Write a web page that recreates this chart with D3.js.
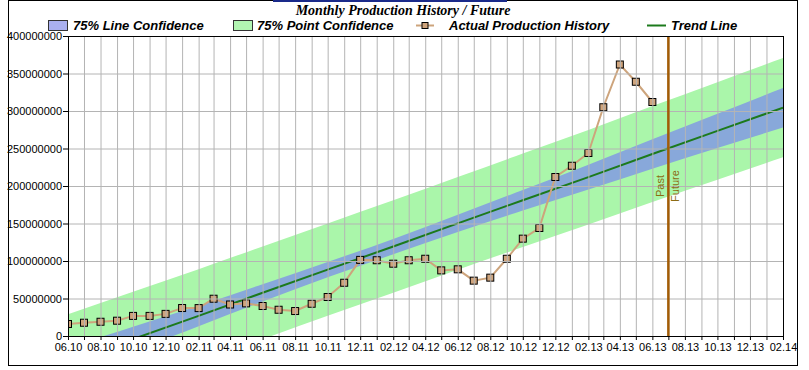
<!DOCTYPE html>
<html>
<head>
<meta charset="utf-8">
<script src="https://cdn.jsdelivr.net/npm/d3@7"></script>
<style>
  body { margin: 0; background: #fff; }
  svg { display: block; font-family: "Liberation Sans", Arial, sans-serif; }
</style>
</head>
<body>
<svg id="chart"></svg>
<script>
// monthly production, in millions
const months = ["06.10","07.10","08.10","09.10","10.10","11.10","12.10","01.11","02.11","03.11","04.11","05.11",
  "06.11","07.11","08.11","09.11","10.11","11.11","12.11","01.12","02.12","03.12","04.12","05.12",
  "06.12","07.12","08.12","09.12","10.12","11.12","12.12","01.13","02.13","03.13","04.13","05.13","06.13"];
const production = [16, 17.7, 19, 20.4, 26.8, 26.8, 29.5, 37.3, 37.2, 49.7, 42, 43.5,
  40, 35, 33.3, 43, 52, 71, 101.5, 101, 96.4, 101, 103, 87.5,
  88.9, 73.8, 77.8, 103, 129.8, 144, 212, 227, 244, 305, 362, 339, 312];

// trend and confidence bands, read every 4 months (millions)
const bandMonths = ["06.10","10.10","02.11","06.11","10.11","02.12","06.12","10.12","02.13","06.13","10.13","02.14"];
const trend     = [-34.9, -4.1, 26.8, 57.6, 88.5, 119.3, 150.2, 181.0, 211.8, 242.7, 273.5, 304.4];
const lineLow   = [-54.5, -20.6, 13.1, 46.1, 78.3, 109.1, 138.7, 167.3, 195.3, 223.1, 250.6, 278.1];
const lineHigh  = [-15.3, 12.4, 40.5, 69.1, 98.7, 129.5, 161.7, 194.7, 228.3, 262.3, 296.4, 330.7];
const pointLow  = [-98.8, -67.1, -35.5, -4.3, 26.9, 57.7, 88.3, 118.7, 148.8, 178.8, 208.5, 238.2];
const pointHigh = [29.0, 58.9, 89.1, 119.5, 150.1, 180.9, 212.1, 243.3, 274.8, 306.6, 338.5, 370.6];

const pastFuture = "07.13";
const xStart = "06.10", xEnd = "02.14";
const yTicks = [0, 50, 100, 150, 200, 250, 300, 350, 400];

const parseMonth = d3.timeParse("%m.%y");
const M = 1e6;

class ProductionChart {
  constructor(_config) {
    this.config = {
      parentElement: _config.parentElement,
      containerWidth: _config.containerWidth || 809,
      containerHeight: _config.containerHeight || 370,
      margin: _config.margin || { top: 36, right: 26, bottom: 34, left: 68 }
    };
    this.initVis();
  }

  initVis() {
    let vis = this;
    vis.svg = d3.select(vis.config.parentElement)
      .attr("width", vis.config.containerWidth)
      .attr("height", vis.config.containerHeight);

    vis.width = vis.config.containerWidth - vis.config.margin.left - vis.config.margin.right;
    vis.height = vis.config.containerHeight - vis.config.margin.top - vis.config.margin.bottom;

    // outer frame
    vis.svg.append("rect")
      .attr("x", 8.5).attr("y", 0.5)
      .attr("width", 789).attr("height", 365)
      .attr("fill", "none").attr("stroke", "#000");

    vis.chart = vis.svg.append("g")
      .attr("transform", `translate(${vis.config.margin.left},${vis.config.margin.top})`);

    vis.chart.append("clipPath").attr("id", "plotClip")
      .append("rect").attr("width", vis.width).attr("height", vis.height);

    vis.xScale = d3.scaleTime()
      .domain([parseMonth(xStart), parseMonth(xEnd)])
      .range([0, vis.width]);

    vis.yScale = d3.scaleLinear()
      .domain([0, 400 * M])
      .range([vis.height, 0]);

    vis.render();
  }

  render() {
    let vis = this;
    const x = vis.xScale, y = vis.yScale;

    const bands = bandMonths.map((m, i) => ({
      date: parseMonth(m), trend: trend[i] * M,
      lineLow: lineLow[i] * M, lineHigh: lineHigh[i] * M,
      pointLow: pointLow[i] * M, pointHigh: pointHigh[i] * M
    }));
    const history = months.map((m, i) => ({ date: parseMonth(m), value: production[i] * M }));

    const plot = vis.chart.append("g").attr("clip-path", "url(#plotClip)");

    plot.append("path").datum(bands)
      .attr("fill", "#aaf6aa")
      .attr("d", d3.area().curve(d3.curveMonotoneX)
        .x(d => x(d.date)).y0(d => y(d.pointLow)).y1(d => y(d.pointHigh)));

    plot.append("path").datum(bands)
      .attr("fill", "#88a8da")
      .attr("d", d3.area().curve(d3.curveMonotoneX)
        .x(d => x(d.date)).y0(d => y(d.lineLow)).y1(d => y(d.lineHigh)));

    // grid
    const allMonths = d3.timeMonth.range(parseMonth(xStart), d3.timeMonth.offset(parseMonth(xEnd), 1));
    vis.chart.append("g")
      .attr("transform", `translate(0,${vis.height})`)
      .call(d3.axisBottom(x).tickValues(allMonths).tickSize(-vis.height).tickFormat(""))
      .call(g => g.select(".domain").remove())
      .call(g => g.selectAll("line").attr("stroke", "#b4b4b4"));
    vis.chart.append("g")
      .call(d3.axisLeft(y).tickValues(yTicks.map(v => v * M)).tickSize(-vis.width).tickFormat(""))
      .call(g => g.select(".domain").remove())
      .call(g => g.selectAll("line").attr("stroke", "#b4b4b4"));

    // trend line
    plot.append("path").datum(bands)
      .attr("fill", "none").attr("stroke", "#1c7a1c").attr("stroke-width", 2)
      .attr("d", d3.line().x(d => x(d.date)).y(d => y(d.trend)));

    // actual production history
    plot.append("path").datum(history)
      .attr("fill", "none").attr("stroke", "#cda47c").attr("stroke-width", 2)
      .attr("d", d3.line().x(d => x(d.date)).y(d => y(d.value)));

    plot.selectAll(".pt").data(history).join("rect")
      .attr("class", "pt")
      .attr("x", d => x(d.date) - 3.5).attr("y", d => y(d.value) - 3.5)
      .attr("width", 7).attr("height", 7)
      .attr("fill", "#cfa47c").attr("stroke", "#000").attr("stroke-width", 1);

    // past / future marker
    const px = x(parseMonth(pastFuture));
    vis.chart.append("line")
      .attr("x1", px).attr("x2", px).attr("y1", 0).attr("y2", vis.height)
      .attr("stroke", "#a25c06").attr("stroke-width", 2.5);
    vis.chart.append("text")
      .attr("transform", `translate(${px - 4},${vis.height / 2}) rotate(-90)`)
      .attr("text-anchor", "middle").attr("font-size", 11).attr("fill", "#8c6c14")
      .text("Past");
    vis.chart.append("text")
      .attr("transform", `translate(${px + 11},${vis.height / 2}) rotate(-90)`)
      .attr("text-anchor", "middle").attr("font-size", 11).attr("fill", "#8c6c14")
      .text("Future");

    // plot frame
    vis.chart.append("rect")
      .attr("x", 0.5).attr("y", 0.5).attr("width", vis.width).attr("height", vis.height)
      .attr("fill", "none").attr("stroke", "#000");

    // axes
    const evenMonths = allMonths.filter((d, i) => i % 2 === 0);
    vis.chart.append("g")
      .attr("transform", `translate(0,${vis.height})`)
      .call(d3.axisBottom(x).tickValues(allMonths).tickSize(4).tickSizeOuter(0)
        .tickFormat(d => evenMonths.some(e => +e === +d) ? d3.timeFormat("%m.%y")(d) : ""))
      .call(g => g.selectAll("text").attr("font-size", 11).attr("fill", "#000")
        .attr("font-family", "'Liberation Sans', Arial, sans-serif").attr("dy", "0.75em"));

    vis.chart.append("g")
      .call(d3.axisLeft(y).tickValues(yTicks.map(v => v * M)).tickSize(5).tickSizeOuter(0)
        .tickFormat(d3.format("d")))
      .call(g => g.selectAll("text").attr("font-size", 11).attr("fill", "#000")
        .attr("font-family", "'Liberation Sans', Arial, sans-serif").attr("x", -6));

    vis.renderHeader();
  }

  renderHeader() {
    let vis = this;
    vis.svg.append("rect").attr("x", 273).attr("y", 0).attr("width", 234).attr("height", 2).attr("fill", "#1a2a8a");

    vis.svg.append("text")
      .attr("x", 403).attr("y", 15)
      .attr("text-anchor", "middle")
      .style("font-family", "'Liberation Serif', 'Times New Roman', serif")
      .attr("font-weight", "bold").attr("font-style", "italic").attr("font-size", 14)
      .text("Monthly Production History / Future");

    const legend = vis.svg.append("g")
      .attr("font-weight", "bold").attr("font-style", "italic").attr("font-size", 13);

    legend.append("rect").attr("x", 48.5).attr("y", 20.5).attr("width", 19).attr("height", 10)
      .attr("fill", "#aab0f0").attr("stroke", "#333");
    legend.append("text").attr("x", 73).attr("y", 30).text("75% Line Confidence");

    legend.append("rect").attr("x", 233.5).attr("y", 20.5).attr("width", 19).attr("height", 10)
      .attr("fill", "#b2f5b2").attr("stroke", "#333");
    legend.append("text").attr("x", 257).attr("y", 30).text("75% Point Confidence");

    legend.append("line").attr("x1", 416).attr("x2", 434).attr("y1", 25.5).attr("y2", 25.5)
      .attr("stroke", "#cda47c").attr("stroke-width", 2);
    legend.append("rect").attr("x", 422).attr("y", 22.5).attr("width", 6).attr("height", 6)
      .attr("fill", "#cfa47c").attr("stroke", "#000");
    legend.append("text").attr("x", 449).attr("y", 30).text("Actual Production History");

    legend.append("line").attr("x1", 647).attr("x2", 666).attr("y1", 25.5).attr("y2", 25.5)
      .attr("stroke", "#1c7a1c").attr("stroke-width", 2);
    legend.append("text").attr("x", 671).attr("y", 30).text("Trend Line");
  }
}

new ProductionChart({ parentElement: "#chart" });
</script>
</body>
</html>
